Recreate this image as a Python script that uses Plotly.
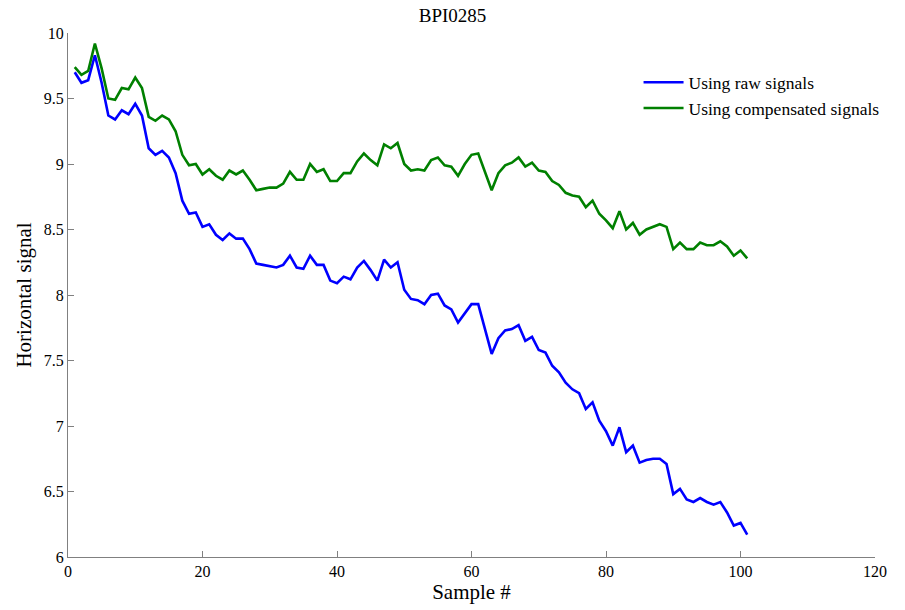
import plotly.graph_objects as go

samples = list(range(1, 102))

raw_signal = [
    9.70, 9.62, 9.64, 9.83, 9.62, 9.37, 9.34, 9.41, 9.38, 9.46,
    9.37, 9.12, 9.07, 9.10, 9.05, 8.93, 8.72, 8.62, 8.63, 8.52,
    8.54, 8.46, 8.42, 8.47, 8.43, 8.43, 8.35, 8.24, 8.23, 8.22,
    8.21, 8.23, 8.30, 8.21, 8.20, 8.30, 8.23, 8.23, 8.11, 8.09,
    8.14, 8.12, 8.21, 8.26, 8.19, 8.11, 8.27, 8.21, 8.25, 8.04,
    7.97, 7.96, 7.93, 8.00, 8.01, 7.92, 7.89, 7.79, 7.86, 7.93,
    7.93, 7.73, 7.55, 7.67, 7.73, 7.74, 7.77, 7.65, 7.68, 7.58,
    7.56, 7.46, 7.41, 7.33, 7.28, 7.25, 7.13, 7.18, 7.04, 6.96,
    6.85, 6.99, 6.80, 6.85, 6.72, 6.74, 6.75, 6.75, 6.71, 6.48,
    6.52, 6.44, 6.42, 6.45, 6.42, 6.40, 6.42, 6.34, 6.24, 6.26,
    6.17,
]

compensated_signal = [
    9.74, 9.68, 9.71, 9.92, 9.73, 9.50, 9.49, 9.58, 9.57, 9.66,
    9.58, 9.36, 9.33, 9.37, 9.34, 9.25, 9.07, 8.99, 9.00, 8.92,
    8.96, 8.91, 8.88, 8.95, 8.92, 8.95, 8.88, 8.80, 8.81, 8.82,
    8.82, 8.85, 8.94, 8.88, 8.88, 9.00, 8.94, 8.96, 8.87, 8.87,
    8.93, 8.93, 9.02, 9.08, 9.03, 8.99, 9.15, 9.12, 9.16, 9.00,
    8.95, 8.96, 8.95, 9.03, 9.05, 8.99, 8.98, 8.91, 9.00, 9.07,
    9.08, 8.94, 8.80, 8.93, 8.99, 9.01, 9.05, 8.98, 9.01, 8.95,
    8.94, 8.87, 8.84, 8.78, 8.76, 8.75, 8.67, 8.72, 8.62, 8.57,
    8.51, 8.64, 8.50, 8.55, 8.46, 8.50, 8.52, 8.54, 8.52, 8.35,
    8.40, 8.35, 8.35, 8.40, 8.38, 8.38, 8.41, 8.37, 8.30, 8.34,
    8.28,
]

x_ticks = [0, 20, 40, 60, 80, 100, 120]
y_ticks = [6, 6.5, 7, 7.5, 8, 8.5, 9, 9.5, 10]
y_tick_labels = ["6", "6.5", "7", "7.5", "8", "8.5", "9", "9.5", "10"]

FONT = "Liberation Serif"

fig = go.Figure()
fig.add_trace(go.Scatter(
    x=samples, y=raw_signal, mode="lines", name="Using raw signals",
    line=dict(color="#0000FF", width=2.6),
))
fig.add_trace(go.Scatter(
    x=samples, y=compensated_signal, mode="lines", name="Using compensated signals",
    line=dict(color="#008000", width=2.6),
))

axis_common = dict(
    showgrid=False, zeroline=False, showline=True, linecolor="#808080",
    linewidth=1.3, ticks="inside", ticklen=6, tickcolor="#808080",
    tickfont=dict(family=FONT, size=16, color="black"), mirror=False,
)

fig.update_layout(
    width=905, height=610,
    margin=dict(l=68, r=30, t=33, b=48),
    paper_bgcolor="white", plot_bgcolor="white",
    font=dict(family=FONT, color="black"),
    title=dict(text="BPI0285", x=0.5, xanchor="center", y=1 - 15 / 610,
               yanchor="middle", font=dict(family=FONT, size=19, color="black")),
    xaxis=dict(range=[0, 120], tickvals=x_ticks,
               title=dict(text="Sample #", font=dict(family=FONT, size=21), standoff=3),
               **axis_common),
    yaxis=dict(range=[6, 10], tickvals=y_ticks, ticktext=y_tick_labels,
               title=dict(text="Horizontal signal", font=dict(family=FONT, size=21), standoff=6),
               **axis_common),
    legend=dict(x=0.707, y=0.94, xanchor="left", yanchor="top",
                bgcolor="rgba(0,0,0,0)", font=dict(family=FONT, size=17.5),
                tracegroupgap=0, itemwidth=40),
    showlegend=True,
)

fig.write_html("out.html")
